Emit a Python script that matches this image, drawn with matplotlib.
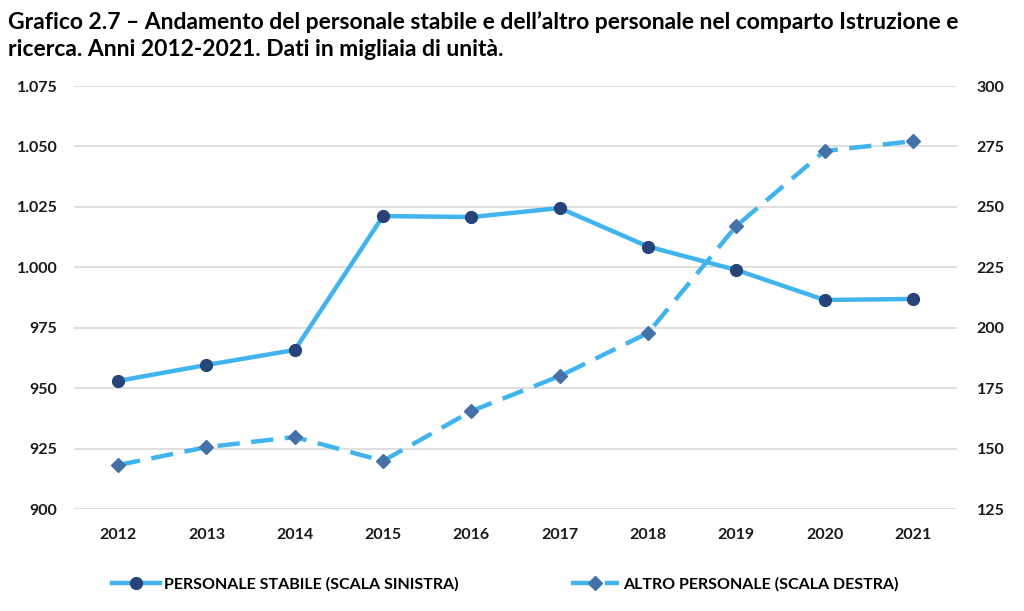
import matplotlib.pyplot as plt
from matplotlib.ticker import FuncFormatter

plt.rcParams['font.family'] = ['Lato', 'DejaVu Sans']

anni = [2012, 2013, 2014, 2015, 2016, 2017, 2018, 2019, 2020, 2021]
personale_stabile = [953.0, 959.6, 965.8, 1021.2, 1020.8, 1024.5, 1008.6, 998.9, 986.5, 986.9]
altro_personale = [143.2, 150.6, 154.8, 144.9, 165.5, 180.0, 197.8, 242.1, 273.1, 277.2]

col_linea = '#41b4ee'
col_cerchi = '#264478'
col_rombi = '#4472a8'


def fmt_it(v, pos):
    return f'{v:,.0f}'.replace(',', '.')


fig = plt.figure(figsize=(10.24, 6.11), dpi=100)
ax = fig.add_axes([0.0723, 0.1669, 0.8623, 0.6923])
ax2 = ax.twinx()

x = list(range(len(anni)))
l1, = ax.plot(x, personale_stabile, color=col_linea, lw=3.2, marker='o', ms=8.5,
              mfc=col_cerchi, mec=col_cerchi, zorder=3)
l2, = ax2.plot(x, altro_personale, color=col_linea, lw=3.2, ls=(0, (5, 2.6)), marker='D', ms=7,
               mfc=col_rombi, mec=col_rombi, zorder=3)

ax.set_xlim(-0.5, 9.5)
ax.set_ylim(900, 1075)
ax2.set_ylim(125, 300)
ax.set_yticks(range(900, 1076, 25))
ax2.set_yticks(range(125, 301, 25))
ax.yaxis.set_major_formatter(FuncFormatter(fmt_it))
ax.set_xticks(x)
ax.set_xticklabels([str(a) for a in anni])
ax.grid(axis='y', color='#d9d9d9', lw=1.2)
ax.set_axisbelow(True)

for a in (ax, ax2):
    for s in a.spines.values():
        s.set_visible(False)
    a.tick_params(length=0, labelsize=11.5, colors='#1a1a1a')
    for t in a.get_xticklabels() + a.get_yticklabels():
        t.set_fontweight('bold')
ax.tick_params(axis='y', pad=12)
ax2.tick_params(axis='y', pad=14)
ax.tick_params(axis='x', pad=13.5)

fig.text(0.008, 0.982, 'Grafico 2.7 – Andamento del personale stabile e dell’altro personale nel comparto Istruzione e\n'
         'ricerca. Anni 2012-2021. Dati in migliaia di unità.',
         ha='left', va='top', fontsize=16.5, fontweight='bold', linespacing=1.35)

leg = fig.legend([l1, l2], ['PERSONALE STABILE (SCALA SINISTRA)', 'ALTRO PERSONALE (SCALA DESTRA)'],
                 loc='center left', bbox_to_anchor=(0.109, 0.043), ncol=2, frameon=False,
                 handlelength=3.0, handletextpad=0.3, columnspacing=7.0,
                 borderaxespad=0, borderpad=0,
                 prop={'size': 11.5, 'weight': 'bold'})

fig.savefig('out.png', dpi=100)
